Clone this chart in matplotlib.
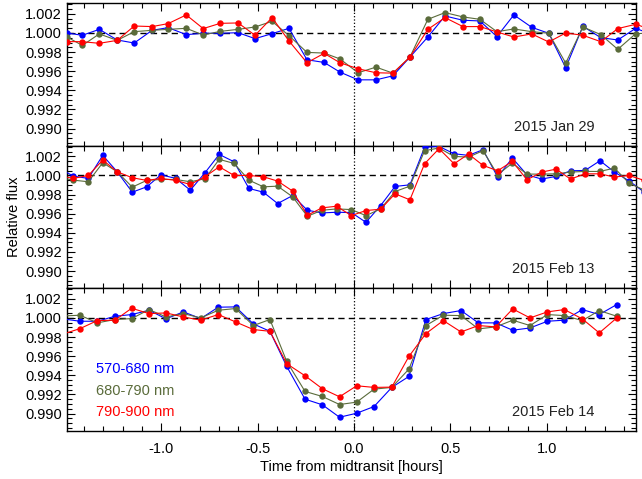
import numpy as np
import matplotlib
matplotlib.use("Agg")
import matplotlib.pyplot as plt
from matplotlib.ticker import FixedLocator, MultipleLocator, FormatStrFormatter
from matplotlib.transforms import Bbox, TransformedBbox

plt.rcParams['font.family'] = ['Liberation Sans', 'DejaVu Sans']
plt.rcParams['axes.unicode_minus'] = False

# ---- data ----
t_jan29 = [-1.490, -1.409, -1.321, -1.228, -1.140, -1.047, -0.964, -0.870, -0.782, -0.694,
           -0.601, -0.513, -0.425, -0.337, -0.244, -0.155, -0.073, 0.021, 0.114, 0.202,
           0.290, 0.383, 0.472, 0.565, 0.653, 0.741, 0.829, 0.922, 1.010, 1.098,
           1.187, 1.280, 1.368, 1.461, 1.550]
blue_jan29 = [1.0000, 0.99976, 1.00038, 0.99927, 0.99895, 1.00028, 1.00056, 0.99983, 0.99997, 0.99997,
              1.00003, 0.99941, 0.99993, 1.00049, 0.99720, 0.99692, 0.99591, 0.99510, 0.99510, 0.99552,
              0.99748, 0.99958, 1.00178, 1.00133, 1.00126, 0.99962, 1.00189, 1.00059, 0.99997, 0.99636,
              1.00070, 0.99951, 0.99927, 1.00049, 0.99980]
green_jan29 = [0.9996, 0.99870, 0.99990, 0.99923, 1.00014, 1.00028, 1.00038, 1.00049, 0.99979, 1.00017,
               1.00038, 1.00063, 1.00122, 0.99972, 0.99797, 0.99790, 0.99729, 0.99584, 0.99643, 0.99580,
               0.99748, 1.00143, 1.00213, 1.00168, 1.00143, 1.00014, 1.00042, 1.00014, 0.99997, 0.99685,
               1.00063, 0.99983, 0.99829, 0.99993, 1.00000]
red_jan29 = [0.9991, 0.99909, 0.99892, 0.99923, 1.00073, 1.00067, 1.00098, 1.00189, 1.00046, 1.00101,
             1.00105, 0.99976, 1.00161, 0.99916, 0.99689, 0.99787, 0.99689, 0.99626, 0.99584, 0.99580,
             0.99748, 1.00038, 1.00161, 1.00067, 1.00067, 1.00011, 0.99958, 0.99990, 0.99906, 1.00000,
             0.99976, 0.99909, 1.00046, 1.00091, 1.00030]

t_feb13 = [-1.532, -1.456, -1.378, -1.303, -1.228, -1.150, -1.075, -1.001, -0.925, -0.849,
           -0.773, -0.699, -0.622, -0.545, -0.470, -0.396, -0.318, -0.242, -0.166, -0.090,
           -0.014, 0.062, 0.138, 0.213, 0.290, 0.366, 0.441, 0.519, 0.594, 0.669,
           0.745, 0.821, 0.897, 0.973, 1.048, 1.123, 1.198, 1.276, 1.351, 1.426, 1.502]
blue_feb13 = [1.0008, 0.99993, 0.99969, 1.00210, 1.00038, 0.99825, 0.99881, 1.00007, 0.99969, 0.99846,
              1.00028, 1.00220, 1.00143, 0.99864, 0.99825, 0.99706, 0.99790, 0.99636, 0.99608, 0.99615,
              0.99612, 0.99510, 0.99685, 0.99885, 0.99902, 1.00294, 1.00304, 1.00227, 1.00210, 1.00269,
              0.99983, 1.00182, 1.00007, 0.99962, 0.99990, 1.00049, 1.00052, 1.00154, 1.00035, 0.99944,
              0.99830]
green_feb13 = [0.9998, 0.99951, 0.99934, 1.00133, 1.00038, 0.99878, 0.99948, 0.99958, 0.99958, 0.99934,
               0.99965, 1.00168, 1.00126, 0.99951, 0.99881, 0.99888, 0.99776, 0.99573, 0.99636, 0.99650,
               0.99643, 0.99580, 0.99650, 0.99832, 0.99888, 1.00259, 1.00287, 1.00199, 1.00192, 1.00259,
               1.00007, 1.00129, 1.00014, 1.00014, 1.00017, 1.00035, 1.00042, 1.00042, 1.00077, 0.99920,
               0.99850]
red_feb13 = [1.0000, 0.99969, 1.00000, 1.00161, 1.00038, 0.99976, 0.99948, 0.99969, 0.99948, 0.99906,
             0.99986, 1.00091, 1.00000, 1.00000, 0.99986, 0.99941, 0.99836, 0.99584, 0.99661, 0.99678,
             0.99580, 0.99633, 0.99647, 0.99808, 0.99745, 1.00122, 1.00280, 1.00122, 1.00224, 1.00105,
             1.00049, 1.00147, 0.99955, 1.00035, 1.00066, 0.99962, 1.00017, 1.00017, 0.99983, 1.00000,
             0.99950]

t_feb14 = [-1.511, -1.421, -1.331, -1.240, -1.153, -1.063, -0.975, -0.885, -0.795, -0.704,
           -0.614, -0.522, -0.436, -0.349, -0.254, -0.164, -0.075, 0.014, 0.104, 0.196,
           0.285, 0.373, 0.463, 0.555, 0.645, 0.735, 0.823, 0.913, 1.003, 1.091,
           1.184, 1.272, 1.363]
blue_feb14 = [0.9999, 0.99965, 0.99965, 1.00017, 1.00035, 1.00080, 0.99990, 1.00063, 0.99993, 1.00112,
              1.00115, 0.99937, 0.99860, 0.99493, 0.99150, 0.99091, 0.98961, 0.99003, 0.99073, 0.99273,
              0.99388, 0.99983, 1.00045, 1.00077, 0.99948, 0.99948, 0.99871, 0.99895, 0.99965, 0.99976,
              1.00087, 1.00035, 1.00140]
green_feb14 = [1.0002, 1.00028, 0.99948, 0.99983, 0.99993, 1.00087, 1.00010, 1.00045, 1.00000, 1.00080,
               1.00098, 0.99920, 0.99983, 0.99545, 0.99231, 0.99178, 0.99094, 0.99119, 0.99255, 0.99273,
               0.99465, 0.99920, 1.00028, 1.00024, 0.99885, 0.99906, 0.99976, 0.99920, 1.00035, 1.00024,
               0.99972, 1.00077, 1.00017]
red_feb14 = [0.9983, 0.99888, 0.99972, 0.99976, 1.00101, 1.00045, 1.00052, 1.00010, 0.99976, 1.00035,
             0.99958, 0.99878, 0.99860, 0.99521, 0.99395, 0.99259, 0.99175, 0.99290, 0.99273, 0.99276,
             0.99598, 0.99836, 0.99972, 0.99853, 0.99920, 0.99906, 1.00094, 1.00000, 1.00063, 1.00087,
             0.99990, 0.99843, 1.00000]

dates = ['2015 Jan 29', '2015 Feb 13', '2015 Feb 14']
band_labels = ['570-680 nm', '680-790 nm', '790-900 nm']
band_colors = ['#0000ff', '#5a6b3a', '#ff0000']
y_ticks = [0.990, 0.992, 0.994, 0.996, 0.998, 1.000, 1.002]
x_ticks = [-1.0, -0.5, 0.0, 0.5, 1.0]

panels = [
    (t_jan29, [blue_jan29, green_jan29, red_jan29]),
    (t_feb13, [blue_feb13, green_feb13, red_feb13]),
    (t_feb14, [blue_feb14, green_feb14, red_feb14]),
]

fig = plt.figure(figsize=(6.42, 4.79), dpi=100)
left, width = 0.1039, 0.8863
bottom, height = 0.1008, 0.2974

axes = []
for i, (t, series) in enumerate(panels):
    ax = fig.add_axes([left, bottom + (2 - i) * height, width, height],
                      sharex=axes[0] if axes else None)
    axes.append(ax)
    ax.axhline(1.0, color='black', ls=(0, (4.5, 3)), lw=1.0, zorder=1)
    ax.axvline(0.0, color='black', ls=':', lw=0.9, zorder=1)
    for vals, col in zip(series, band_colors):
        ln, = ax.plot(t, vals, '-o', color=col, lw=0.8, ms=4.6, mew=0, zorder=3)
        # lines are cut at the left spine but run on to the right edge of the figure
        ln.set_clip_path(None)
        ln.set_clip_box(TransformedBbox(Bbox([[0, 0], [1.02, 1]]), ax.transAxes))

    ax.set_xlim(-1.490, 1.461)
    ax.set_ylim(0.9882, 1.0031)
    ax.yaxis.set_major_locator(FixedLocator(y_ticks))
    ax.yaxis.set_minor_locator(MultipleLocator(0.0005))
    ax.yaxis.set_major_formatter(FormatStrFormatter('%.3f'))
    ax.xaxis.set_major_locator(FixedLocator(x_ticks))
    ax.xaxis.set_minor_locator(MultipleLocator(0.1))
    ax.xaxis.set_major_formatter(FormatStrFormatter('%.1f'))
    ax.tick_params(which='both', direction='in', top=True, right=True,
                   labelsize=10.5, colors='black', width=0.8)
    ax.tick_params(which='major', length=6)
    ax.tick_params(which='minor', length=3.5)
    for sp in ax.spines.values():
        sp.set_linewidth(1.0)
    if i < 2:
        ax.tick_params(labelbottom=False)
    ax.tick_params(axis='x', pad=8)
    ax.text(0.928, 0.133, dates[i], transform=ax.transAxes, ha='right', va='center',
            fontsize=10.5, color='#222222')

for k, (lab, col) in enumerate(zip(band_labels, band_colors)):
    axes[2].text(0.051, 0.430 - k * 0.151, lab, transform=axes[2].transAxes,
                 ha='left', va='center', color=col, fontsize=10.5)

axes[2].set_xlabel('Time from midtransit [hours]', fontsize=10.5, labelpad=3)
fig.text(14 / 642, 1 - 217 / 479, 'Relative flux', rotation=90, ha='center', va='center',
         fontsize=10.5)

fig.savefig('out.png', dpi=100)
